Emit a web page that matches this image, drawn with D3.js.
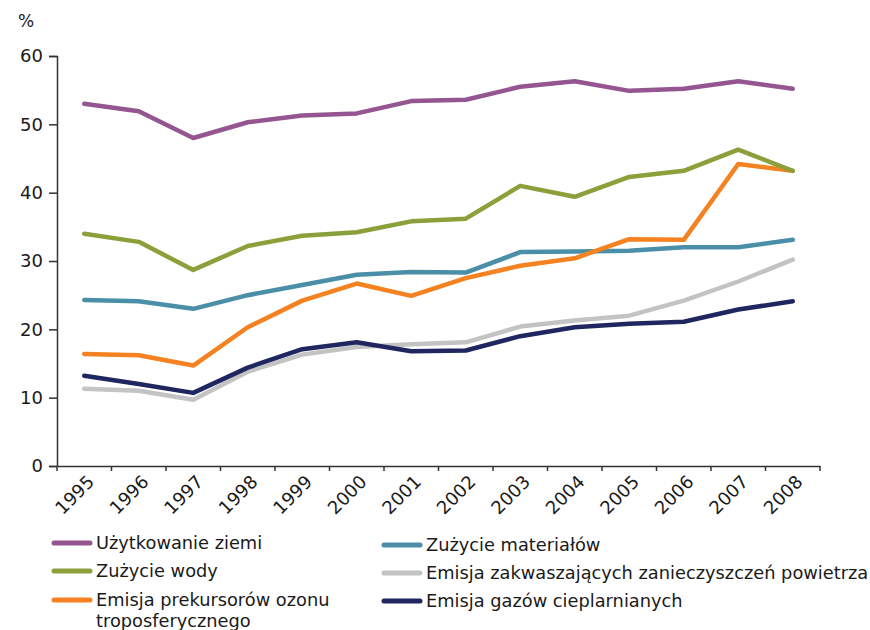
<!DOCTYPE html>
<html>
<head>
<meta charset="utf-8">
<script src="https://cdn.jsdelivr.net/npm/d3@7"></script>
<style>
  body { margin: 0; background: #fff; }
  svg text { font-family: "DejaVu Sans", Verdana, sans-serif; fill: #1a1a1a; }
</style>
</head>
<body>
<svg id="chart" width="870" height="630"></svg>
<script>
// data
var years = [1995, 1996, 1997, 1998, 1999, 2000, 2001, 2002, 2003, 2004, 2005, 2006, 2007, 2008];
var yTicks = [0, 10, 20, 30, 40, 50, 60];

var landUse    = [53.0, 51.9, 48.0, 50.3, 51.3, 51.6, 53.4, 53.6, 55.5, 56.3, 54.9, 55.2, 56.3, 55.2];
var waterUse   = [34.0, 32.8, 28.7, 32.2, 33.7, 34.2, 35.8, 36.2, 41.0, 39.4, 42.3, 43.2, 46.3, 43.2];
var ozonePrec  = [16.4, 16.2, 14.7, 20.3, 24.2, 26.7, 24.9, 27.5, 29.3, 30.4, 33.2, 33.1, 44.2, 43.2];
var materials  = [24.3, 24.1, 23.0, 25.0, 26.5, 28.0, 28.4, 28.3, 31.3, 31.4, 31.5, 32.0, 32.0, 33.1];
var acidifying = [11.3, 11.0, 9.7, 13.8, 16.3, 17.4, 17.8, 18.1, 20.4, 21.3, 22.0, 24.2, 27.0, 30.2];
var ghg        = [13.2, 12.0, 10.7, 14.4, 17.1, 18.1, 16.8, 16.9, 19.0, 20.3, 20.8, 21.1, 22.9, 24.1];

var seriesNames = [
  "Użytkowanie ziemi",
  "Zużycie wody",
  "Emisja prekursorów ozonu troposferycznego",
  "Zużycie materiałów",
  "Emisja zakwaszających zanieczyszczeń powietrza",
  "Emisja gazów cieplarnianych"
];
var seriesValues = [landUse, waterUse, ozonePrec, materials, acidifying, ghg];
var colors = ["#955590", "#8ba03a", "#f58220", "#4a8fa7", "#c3c3c3", "#1f2660"];

var svg = d3.select('#chart');

// plot box (not called "top": that name belongs to window)
var plotL = 57, plotR = 820, plotT = 56, plotB = 466;

var x = d3.scaleBand()
  .domain(years)
  .range([plotL, plotR]);

var y = d3.scaleLinear()
  .domain([0, 60])
  .range([plotB, plotT]);

// y axis
var yAxis = svg.append('g')
  .attr('transform', 'translate(' + plotL + ',0)')
  .call(d3.axisLeft(y).tickValues(yTicks).tickSize(8).tickPadding(6));
yAxis.select('.domain').attr('stroke', '#333').attr('stroke-width', 1.5);
yAxis.selectAll('.tick line').attr('stroke', '#333').attr('stroke-width', 1.5);
yAxis.selectAll('.tick text')
  .style('font-size', '18px')
  .attr('fill', '#1a1a1a');

// x axis
var xAxis = svg.append('g')
  .attr('transform', 'translate(0,' + plotB + ')')
  .call(d3.axisBottom(x).tickSize(0).tickFormat(''));
xAxis.select('.domain').attr('stroke', '#333').attr('stroke-width', 1.5);

// tick marks sit on the band edges
svg.append('g')
  .selectAll('line')
  .data(years.concat(['end']))
  .join('line')
  .attr('x1', function(d) { return d === 'end' ? plotR : x(d); })
  .attr('x2', function(d) { return d === 'end' ? plotR : x(d); })
  .attr('y1', plotB)
  .attr('y2', plotB + 5)
  .attr('stroke', '#333')
  .attr('stroke-width', 1.5);

svg.append('g')
  .selectAll('text')
  .data(years)
  .join('text')
  .attr('transform', function(d) {
    return 'translate(' + (x(d) + x.bandwidth() / 2 + 11) + ',' + (plotB + 17) + ') rotate(-45)';
  })
  .attr('text-anchor', 'end')
  .style('font-size', '18px')
  .text(function(d) { return d; });

// unit label
svg.append('text')
  .attr('x', 18)
  .attr('y', 27)
  .style('font-size', '17px')
  .text('%');

// lines
var line = d3.line()
  .x(function(d, i) { return x(years[i]) + x.bandwidth() / 2; })
  .y(function(d) { return y(d); });

// draw order: pale ones first so the darker lines sit on top
var drawOrder = [4, 5, 3, 2, 1, 0];
drawOrder.forEach(function(k) {
  svg.append('path')
    .datum(seriesValues[k])
    .attr('fill', 'none')
    .attr('stroke', colors[k])
    .attr('stroke-width', 4.5)
    .attr('stroke-linejoin', 'round')
    .attr('stroke-linecap', 'round')
    .attr('d', line);
});

// legend
var legendItems = [
  { k: 0, x: 52,  y: 543, lines: [seriesNames[0]] },
  { k: 1, x: 52,  y: 571, lines: [seriesNames[1]] },
  { k: 2, x: 52,  y: 600, lines: ["Emisja prekursorów ozonu", "troposferycznego"] },
  { k: 3, x: 382, y: 545, lines: [seriesNames[3]] },
  { k: 4, x: 382, y: 573, lines: [seriesNames[4]] },
  { k: 5, x: 382, y: 601, lines: [seriesNames[5]] }
];

var legend = svg.append('g');
legendItems.forEach(function(it) {
  legend.append('line')
    .attr('x1', it.x + 2)
    .attr('x2', it.x + 38)
    .attr('y1', it.y)
    .attr('y2', it.y)
    .attr('stroke', colors[it.k])
    .attr('stroke-width', 5)
    .attr('stroke-linecap', 'round');
  var t = legend.append('text')
    .attr('x', it.x + 44)
    .attr('y', it.y + 6)
    .style('font-size', '17.8px');
  it.lines.forEach(function(s, i) {
    t.append('tspan')
      .attr('x', it.x + 44)
      .attr('dy', i === 0 ? 0 : 21)
      .text(s);
  });
});
</script>
</body>
</html>
